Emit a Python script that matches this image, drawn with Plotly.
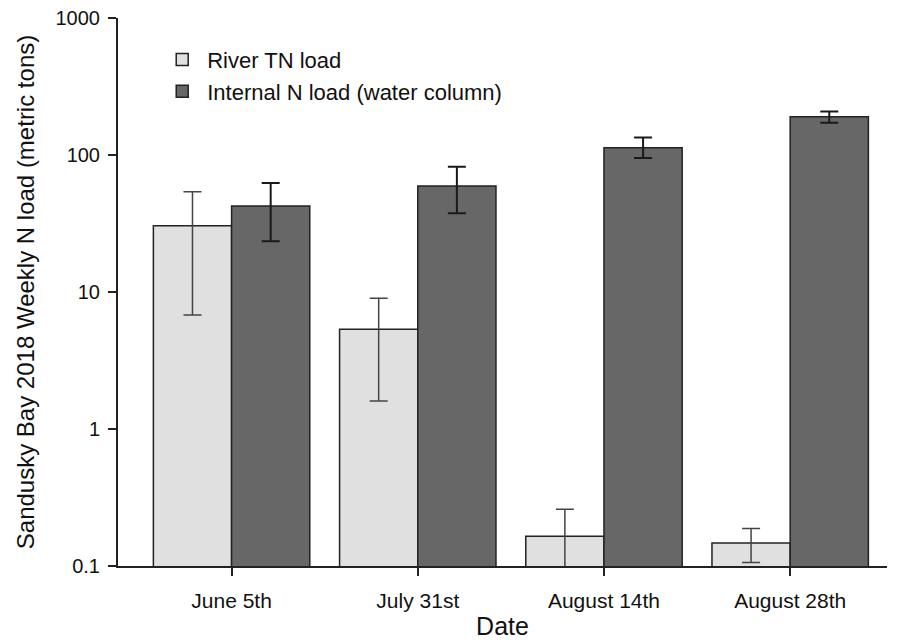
import plotly.graph_objects as go

dates = ["June 5th", "July 31st", "August 14th", "August 28th"]
river = [30.5, 5.35, 0.165, 0.147]
river_hi = [54.0, 9.0, 0.26, 0.188]
river_lo = [6.8, 1.6, 0.07, 0.106]
internal = [42.5, 59.5, 113.0, 190.0]
internal_hi = [62.5, 82.0, 134.0, 208.0]
internal_lo = [23.5, 37.5, 95.0, 172.0]

tickvals = [0.1, 1, 10, 100, 1000]
ticktext = ["0.1", "1", "10", "100", "1000"]

fig = go.Figure()
fig.add_trace(go.Bar(
    x=dates, y=river, name="River TN load",
    marker=dict(color="#e0e0e0", line=dict(color="#222222", width=1.5)),
    error_y=dict(type="data", symmetric=False,
                 array=[h - v for h, v in zip(river_hi, river)],
                 arrayminus=[v - l for v, l in zip(river, river_lo)],
                 color="#444444", thickness=1.5, width=9),
))
fig.add_trace(go.Bar(
    x=dates, y=internal, name="Internal N load (water column)",
    marker=dict(color="#676767", line=dict(color="#222222", width=1.5)),
    error_y=dict(type="data", symmetric=False,
                 array=[h - v for h, v in zip(internal_hi, internal)],
                 arrayminus=[v - l for v, l in zip(internal, internal_lo)],
                 color="#1a1a1a", thickness=2, width=9),
))

font = "Liberation Sans, Arial, sans-serif"
fig.update_layout(
    width=902, height=642,
    margin=dict(l=110, r=23, t=10, b=84, autoexpand=False),
    paper_bgcolor="white", plot_bgcolor="white",
    barmode="group", bargap=0.16, bargroupgap=0,
    font=dict(family=font, size=20, color="#111111"),
    showlegend=True,
    legend=dict(x=0.051, y=0.962, xanchor="left", yanchor="top",
                bgcolor="rgba(0,0,0,0)", font=dict(size=22),
                itemwidth=40, tracegroupgap=0),
    xaxis=dict(
        title=dict(text="Date", font=dict(size=25), standoff=6),
        range=[-0.61, 3.52],
        showline=True, linecolor="#222222", linewidth=2,
        ticks="outside", ticklen=8, tickwidth=1.5, tickcolor="#222222",
        showgrid=False, zeroline=False, automargin=False,
        tickfont=dict(size=21), ticklabelstandoff=7,
    ),
    yaxis=dict(
        type="log",
        title=dict(text="Sandusky Bay 2018 Weekly N load (metric tons)", font=dict(size=24), standoff=14),
        range=[-1, 3],
        tickvals=tickvals, ticktext=ticktext,
        showline=True, linecolor="#222222", linewidth=2,
        ticks="outside", ticklen=8, tickwidth=1.5, tickcolor="#222222",
        showgrid=False, zeroline=False, automargin=False,
        tickfont=dict(size=20), ticklabelstandoff=4,
        ticklabeloverflow="allow",
    ),
)

fig.write_html("out.html")
